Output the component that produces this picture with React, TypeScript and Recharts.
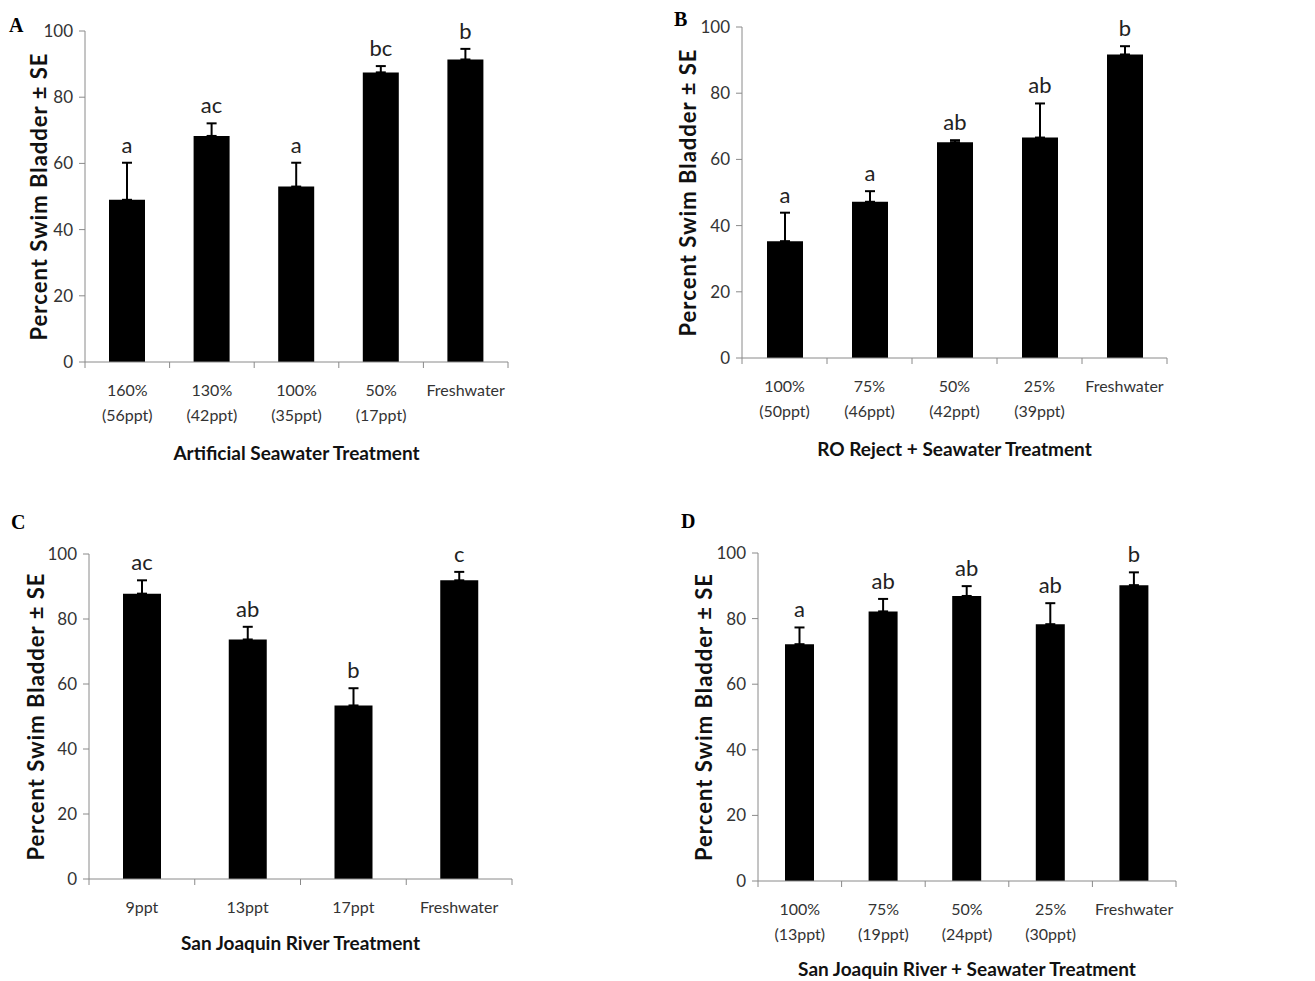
import React from "react"
import { BarChart, Bar, XAxis, YAxis, ErrorBar, LabelList } from "recharts"

// A - artificial seawater
const aCategories = ["160%\n(56ppt)", "130%\n(42ppt)", "100%\n(35ppt)", "50%\n(17ppt)", "Freshwater"]
const aMeans = [49, 68.3, 53, 87.5, 91.4]
const aErrors = [11.2, 3.8, 7.2, 1.9, 3.2]
const aLetters = ["a", "ac", "a", "bc", "b"]

// B - RO reject + seawater
const bCategories = ["100%\n(50ppt)", "75%\n(46ppt)", "50%\n(42ppt)", "25%\n(39ppt)", "Freshwater"]
const bMeans = [35.3, 47.2, 65.2, 66.6, 91.7]
const bErrors = [8.6, 3.2, 0.6, 10.3, 2.5]
const bLetters = ["a", "a", "ab", "ab", "b"]

// C - San Joaquin River
const cCategories = ["9ppt", "13ppt", "17ppt", "Freshwater"]
const cMeans = [87.8, 73.7, 53.4, 91.9]
const cErrors = [4.1, 3.9, 5.3, 2.6]
const cLetters = ["ac", "ab", "b", "c"]

// D - San Joaquin River + seawater
const dCategories = ["100%\n(13ppt)", "75%\n(19ppt)", "50%\n(24ppt)", "25%\n(30ppt)", "Freshwater"]
const dMeans = [72.2, 82.2, 86.9, 78.3, 90.2]
const dErrors = [5.1, 3.8, 3.0, 6.4, 3.9]
const dLetters = ["a", "ab", "ab", "ab", "b"]

const yTicks = [0, 20, 40, 60, 80, 100]

const FONT = "Lato, 'Open Sans', sans-serif"
const AXIS = "#8a8a8a"

function buildRows(cats: string[], means: number[], errs: number[], letters: string[]) {
  return cats.map((name, i) => ({
    name,
    mean: means[i],
    se: errs[i],
    err: [0, errs[i]],
    letter: letters[i],
  }))
}

function makeTick(step: number, count: number) {
  return (props: any) => {
    const { x, y, payload, index } = props
    const lines = String(payload.value).split("\n")
    const left = x - step / 2
    return (
      <g>
        <line x1={left} y1={y} x2={left} y2={y + 6} stroke={AXIS} />
        {index === count - 1 && <line x1={x + step / 2} y1={y} x2={x + step / 2} y2={y + 6} stroke={AXIS} />}
        {lines.map((ln, i) => (
          <text key={i} x={x} y={y + 34 + i * 25} textAnchor="middle" fill="#333" fontSize={16} fontFamily={FONT}>
            {ln}
          </text>
        ))}
      </g>
    )
  }
}

function yTitle(cx: number) {
  return (props: any) => {
    const vb = props.viewBox
    const cy = vb.y + vb.height / 2
    return (
      <text x={cx} y={cy} transform={`rotate(-90 ${cx} ${cy})`} textAnchor="middle" dominantBaseline="central"
        fontSize={22} letterSpacing={1} fontWeight="bold" fontFamily={FONT} fill="#111">
        Percent Swim  Bladder ± SE
      </text>
    )
  }
}

function xTitle(text: string, dy: number) {
  return (props: any) => {
    const vb = props.viewBox
    return (
      <text x={vb.x + vb.width / 2} y={vb.y + dy} textAnchor="middle" dominantBaseline="central"
        fontSize={19} fontWeight="bold" fontFamily={FONT} fill="#111">
        {text}
      </text>
    )
  }
}

interface PanelProps {
  rows: any[]
  left: number
  top: number
  width: number
  height: number
  yWidth: number
  plotTop: number
  plotRight: number
  xHeight: number
  barSize: number
  yTitleX: number
  title: string
  titleDy: number
}

function Panel(p: PanelProps) {
  const plotW = p.width - p.yWidth - p.plotRight
  const step = plotW / p.rows.length
  return (
    <div style={{ position: "absolute", left: p.left, top: p.top }}>
      <BarChart width={p.width} height={p.height} data={p.rows}
        margin={{ top: p.plotTop, right: p.plotRight, left: 0, bottom: 0 }}>
        <XAxis dataKey="name" height={p.xHeight} stroke={AXIS} tickLine={false} tickSize={0} tickMargin={0}
          interval={0} tick={makeTick(step, p.rows.length)} label={{ content: xTitle(p.title, p.titleDy) }} />
        <YAxis width={p.yWidth} domain={[0, 100]} ticks={yTicks} stroke={AXIS} tickSize={6} tickMargin={6}
          tick={{ fill: "#333", fontSize: 17, fontFamily: FONT }} label={{ content: yTitle(p.yTitleX) }} />
        <Bar dataKey="mean" stackId="s" fill="#000" barSize={p.barSize} isAnimationActive={false}>
          <ErrorBar dataKey="err" width={5} stroke="#000" strokeWidth={2} direction="y" />
        </Bar>
        <Bar dataKey="se" stackId="s" fill="transparent" barSize={p.barSize} isAnimationActive={false}>
          <LabelList dataKey="letter" position="top" offset={10} fill="#222" fontSize={22} fontFamily={FONT} />
        </Bar>
      </BarChart>
    </div>
  )
}

const panelLetter = (t: string, x: number, y: number) => (
  <div style={{ position: "absolute", left: x, top: y, fontFamily: "'Liberation Serif', 'Times New Roman', serif",
    fontWeight: "bold", fontSize: 20, lineHeight: "20px", color: "#000" }}>{t}</div>
)

export default function App() {
  return (
    <div style={{ position: "absolute", left: 0, top: 0, width: 1315, height: 981, background: "#fff", overflow: "hidden" }}>
      <Panel rows={buildRows(aCategories, aMeans, aErrors, aLetters)} left={0} top={0} width={540} height={480}
        yWidth={85} plotTop={31} plotRight={32} xHeight={118} barSize={36} yTitleX={38}
        title="Artificial Seawater Treatment" titleDy={90} />
      <Panel rows={buildRows(bCategories, bMeans, bErrors, bLetters)} left={660} top={0} width={530} height={480}
        yWidth={82} plotTop={27} plotRight={23} xHeight={122} barSize={36} yTitleX={27}
        title="RO Reject + Seawater Treatment" titleDy={90} />
      <Panel rows={buildRows(cCategories, cMeans, cErrors, cLetters)} left={0} top={500} width={540} height={481}
        yWidth={89} plotTop={54} plotRight={28} xHeight={102} barSize={38} yTitleX={35}
        title="San Joaquin River Treatment" titleDy={63} />
      <Panel rows={buildRows(dCategories, dMeans, dErrors, dLetters)} left={660} top={500} width={540} height={481}
        yWidth={98} plotTop={53} plotRight={24} xHeight={100} barSize={29} yTitleX={43}
        title="San Joaquin River + Seawater Treatment" titleDy={87} />
      {panelLetter("A", 9, 15)}
      {panelLetter("B", 674, 9)}
      {panelLetter("C", 11, 512)}
      {panelLetter("D", 681, 511)}
    </div>
  )
}
